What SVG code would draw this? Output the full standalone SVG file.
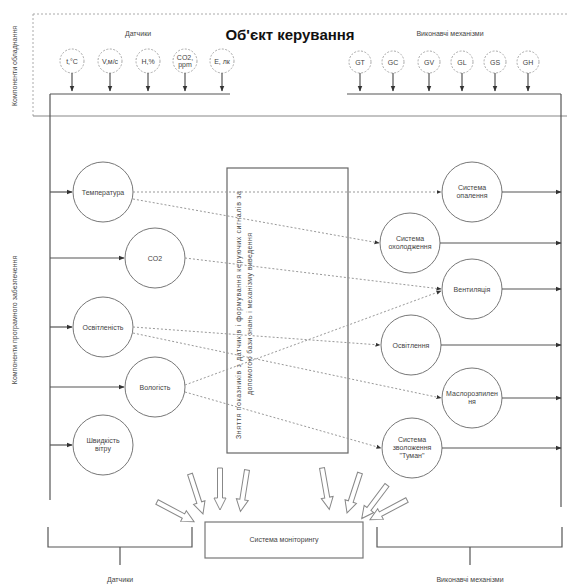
<svg xmlns="http://www.w3.org/2000/svg" width="567" height="585" viewBox="0 0 567 585">
<defs>
<style>
text{font-family:"Liberation Sans",Arial,sans-serif;fill:#444;text-anchor:middle}
.t{font-size:7px}
.c{fill:#fff;stroke:#777;stroke-width:1}
.dc{fill:#fff;stroke:#aaa;stroke-width:1;stroke-dasharray:2 1.5}
.ln{stroke:#555;stroke-width:1.2;fill:none}
.dl{stroke:#999;stroke-width:1;stroke-dasharray:2 2;fill:none}
.ba{fill:#fff;stroke:#888;stroke-width:1}
</style>
<marker id="ah" viewBox="0 0 10 10" refX="9" refY="5" markerWidth="5" markerHeight="5" orient="auto">
<path d="M0,1 L10,5 L0,9 Z" fill="#333"/>
</marker>
<polygon id="bar" points="0,-2.5 30,-2.5 30,-6 42,0 30,6 30,2.5 0,2.5"/>
</defs>
<rect width="567" height="585" fill="#fff"/>

<g id="object-frame">
<line x1="33" y1="14" x2="567" y2="14" stroke="#aaa" stroke-dasharray="2 2"/>
<line x1="33" y1="14" x2="33" y2="116" stroke="#aaa" stroke-dasharray="2 2"/>
<line x1="33" y1="116" x2="567" y2="116" stroke="#888" stroke-width="1.2"/>
<text x="290" y="40" style="font-size:15px;font-weight:bold;fill:#111">Об'єкт керування</text>
<text x="138" y="36" class="t">Датчики</text>
<text x="450" y="36" class="t">Виконавчі механізми</text>
<text class="t" transform="translate(17,66) rotate(-90)">Компоненти обладнання</text>
<text class="t" transform="translate(17,320) rotate(-90)">Компоненти програмного забезпечення</text>
</g>

<g id="sensors">
<g id="s-t"><circle cx="72" cy="61" r="12" class="dc"/><text x="72" y="63.5" class="t">t,°C</text></g>
<g id="s-v"><circle cx="110" cy="61" r="12" class="dc"/><text x="110" y="63.5" class="t">V,м/с</text></g>
<g id="s-h"><circle cx="148" cy="61" r="12" class="dc"/><text x="148" y="63.5" class="t">H,%</text></g>
<g id="s-co2"><circle cx="185" cy="61" r="12" class="dc"/><text x="185" y="60" class="t">CO2,</text><text x="185" y="67" class="t">ppm</text></g>
<g id="s-e"><circle cx="222" cy="61" r="12" class="dc"/><text x="222" y="63.5" class="t">E, лк</text></g>
</g>

<g id="actuators">
<g id="a-gt"><circle cx="360" cy="62" r="11" class="dc"/><text x="360" y="64.5" class="t">GT</text></g>
<g id="a-gc"><circle cx="393" cy="62" r="11" class="dc"/><text x="393" y="64.5" class="t">GC</text></g>
<g id="a-gv"><circle cx="429" cy="62" r="11" class="dc"/><text x="429" y="64.5" class="t">GV</text></g>
<g id="a-gl"><circle cx="462" cy="62" r="11" class="dc"/><text x="462" y="64.5" class="t">GL</text></g>
<g id="a-gs"><circle cx="495" cy="62" r="11" class="dc"/><text x="495" y="64.5" class="t">GS</text></g>
<g id="a-gh"><circle cx="528" cy="62" r="11" class="dc"/><text x="528" y="64.5" class="t">GH</text></g>
</g>

<g id="inputs">
<g id="in-temp"><circle cx="103" cy="192" r="30" class="c"/><text x="103" y="194.5" class="t">Температура</text></g>
<g id="in-co2"><circle cx="155" cy="258" r="30" class="c"/><text x="155" y="260.5" class="t">CO2</text></g>
<g id="in-light"><circle cx="103" cy="327" r="30" class="c"/><text x="103" y="329.5" class="t">Освітленість</text></g>
<g id="in-hum"><circle cx="155" cy="387" r="30" class="c"/><text x="155" y="389.5" class="t">Вологість</text></g>
<g id="in-wind"><circle cx="103" cy="445" r="30" class="c"/><text x="103" y="443" class="t">Швидкість</text><text x="103" y="451" class="t">вітру</text></g>
</g>

<g id="core">
<rect x="227" y="168" width="121" height="285" fill="none" stroke="#666" stroke-width="1.2"/>
<text class="t" transform="translate(241,315) rotate(-90)" textLength="248" lengthAdjust="spacing">Зняття показників з датчиків і формування керуючих сигналів за</text>
<text class="t" transform="translate(252,314) rotate(-90)" textLength="162" lengthAdjust="spacing">допомогою бази знань і механізму виведення</text>
</g>

<g id="outputs">
<g id="out-heat"><circle cx="472" cy="192" r="30" class="c"/><text x="472" y="190" class="t">Система</text><text x="472" y="198" class="t">опалення</text></g>
<g id="out-cool"><circle cx="410" cy="243" r="30" class="c"/><text x="410" y="241" class="t">Система</text><text x="410" y="249" class="t">охолодження</text></g>
<g id="out-vent"><circle cx="472" cy="289" r="30" class="c"/><text x="472" y="291.5" class="t">Вентиляція</text></g>
<g id="out-light"><circle cx="411" cy="345" r="30" class="c"/><text x="411" y="347.5" class="t">Освітлення</text></g>
<g id="out-oil"><circle cx="472" cy="398" r="30" class="c"/><text x="472" y="396" class="t">Маслорозпилен</text><text x="472" y="404" class="t">ня</text></g>
<g id="out-fog"><circle cx="412" cy="448" r="30" class="c"/><text x="412" y="442" class="t">Система</text><text x="412" y="450" class="t">зволоження</text><text x="412" y="458" class="t">"Туман"</text></g>
</g>

<g id="monitoring">
<rect x="205" y="522" width="158" height="36" fill="#fff" stroke="#777" stroke-width="1.2"/>
<text x="284" y="542" class="t">Система моніторингу</text>
</g>

<g id="brackets">
<path d="M48,527 V547 H192 V527 M120,547 V565" class="ln"/>
<path d="M377,527 V547 H562 V527 M470,547 V565" class="ln"/>
<text x="120" y="582" class="t">Датчики</text>
<text x="470" y="582" class="t">Виконавчі механізми</text>
</g>

<g id="connectors">
<path d="M50,94 H230" class="ln"/>
<path d="M347,94 H561" class="ln"/>
<path d="M50,94 V500" class="ln"/>
<path d="M561,94 V507" class="ln"/>
<path d="M72,73 V91" class="ln" marker-end="url(#ah)"/>
<path d="M110,73 V91" class="ln" marker-end="url(#ah)"/>
<path d="M148,73 V91" class="ln" marker-end="url(#ah)"/>
<path d="M185,73 V91" class="ln" marker-end="url(#ah)"/>
<path d="M222,73 V91" class="ln" marker-end="url(#ah)"/>
<path d="M360,73 V91" class="ln" marker-end="url(#ah)"/>
<path d="M393,73 V91" class="ln" marker-end="url(#ah)"/>
<path d="M429,73 V91" class="ln" marker-end="url(#ah)"/>
<path d="M462,73 V91" class="ln" marker-end="url(#ah)"/>
<path d="M495,73 V91" class="ln" marker-end="url(#ah)"/>
<path d="M528,73 V91" class="ln" marker-end="url(#ah)"/>
<path d="M50,192 H72" class="ln" marker-end="url(#ah)"/>
<path d="M50,258 H124" class="ln" marker-end="url(#ah)"/>
<path d="M50,327 H72" class="ln" marker-end="url(#ah)"/>
<path d="M50,387 H124" class="ln" marker-end="url(#ah)"/>
<path d="M50,445 H72" class="ln" marker-end="url(#ah)"/>
<path d="M502,192 H561" class="ln" marker-end="url(#ah)"/>
<path d="M440,243 H561" class="ln" marker-end="url(#ah)"/>
<path d="M502,289 H561" class="ln" marker-end="url(#ah)"/>
<path d="M441,345 H561" class="ln" marker-end="url(#ah)"/>
<path d="M502,398 H561" class="ln" marker-end="url(#ah)"/>
<path d="M442,448 H561" class="ln" marker-end="url(#ah)"/>
<path d="M133,192 L441,192" class="dl" marker-end="url(#ah)"/>
<path d="M133,199 L379,243" class="dl" marker-end="url(#ah)"/>
<path d="M185,258 L441,289" class="dl" marker-end="url(#ah)"/>
<path d="M133,327 L380,345" class="dl" marker-end="url(#ah)"/>
<path d="M133,333 L441,398" class="dl" marker-end="url(#ah)"/>
<path d="M185,385 L441,291" class="dl" marker-end="url(#ah)"/>
<path d="M185,392 L381,448" class="dl" marker-end="url(#ah)"/>
<use href="#bar" class="ba" transform="translate(157,502) rotate(28)"/>
<use href="#bar" class="ba" transform="translate(190,474) rotate(72)"/>
<use href="#bar" class="ba" transform="translate(220,468) rotate(90)"/>
<use href="#bar" class="ba" transform="translate(247,470) rotate(99)"/>
<use href="#bar" class="ba" transform="translate(322,468) rotate(80)"/>
<use href="#bar" class="ba" transform="translate(360,473) rotate(108)"/>
<use href="#bar" class="ba" transform="translate(387,485) rotate(127)"/>
<use href="#bar" class="ba" transform="translate(407,500) rotate(152)"/>
</g>
</svg>
